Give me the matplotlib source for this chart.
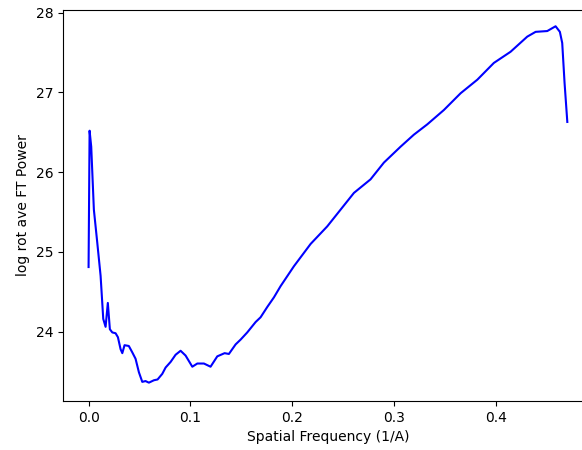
import matplotlib
matplotlib.use("Agg")
import matplotlib.pyplot as plt

freq = [0.0, 0.001, 0.0026, 0.0052, 0.0085, 0.0118, 0.0144, 0.0167, 0.0189, 0.0209,
        0.0233, 0.0265, 0.0288, 0.0314, 0.0331, 0.0353, 0.0395, 0.0429, 0.0461, 0.0494,
        0.0527, 0.0559, 0.0592, 0.0641, 0.0677, 0.0723, 0.0756, 0.0805, 0.0854, 0.0903,
        0.0952, 0.1018, 0.1067, 0.1132, 0.1197, 0.1263, 0.1335, 0.1377, 0.1443, 0.1492,
        0.1557, 0.1639, 0.1688, 0.1754, 0.1819, 0.1884, 0.2015, 0.2179, 0.2342, 0.2473,
        0.2604, 0.2767, 0.2898, 0.3062, 0.3192, 0.3324, 0.3487, 0.3651, 0.3815, 0.3977,
        0.4141, 0.4305, 0.4387, 0.4501, 0.4583, 0.4625, 0.4648, 0.4671, 0.4698]
power = [24.81, 26.52, 26.32, 25.53, 25.12, 24.70, 24.16, 24.06, 24.36, 24.03,
         23.99, 23.98, 23.93, 23.78, 23.73, 23.83, 23.82, 23.74, 23.66, 23.49,
         23.37, 23.38, 23.36, 23.39, 23.40, 23.47, 23.55, 23.62, 23.71, 23.76,
         23.70, 23.56, 23.60, 23.60, 23.56, 23.69, 23.73, 23.72, 23.84, 23.90,
         23.99, 24.12, 24.18, 24.31, 24.43, 24.57, 24.82, 25.10, 25.32, 25.53,
         25.74, 25.91, 26.12, 26.32, 26.47, 26.60, 26.78, 26.99, 27.16, 27.37,
         27.51, 27.70, 27.76, 27.77, 27.83, 27.76, 27.62, 27.12, 26.63]

fig = plt.figure(figsize=(5.82, 4.5), dpi=100)
ax = fig.add_axes([63.3 / 582, 49 / 450, (593.3 - 63.3) / 582, 391 / 450])
ax.plot(freq, power, color="blue", linewidth=1.5)
ax.set_xlim(-0.0248, 0.4953)
ax.set_ylim(23.13, 28.034)
ax.set_xticks([0.0, 0.1, 0.2, 0.3, 0.4])
ax.set_yticks([24, 25, 26, 27, 28])
ax.spines["right"].set_visible(False)
ax.set_xlabel("Spatial Frequency (1/A)")
ax.set_ylabel("log rot ave FT Power")
fig.savefig("out.png", dpi=100)
